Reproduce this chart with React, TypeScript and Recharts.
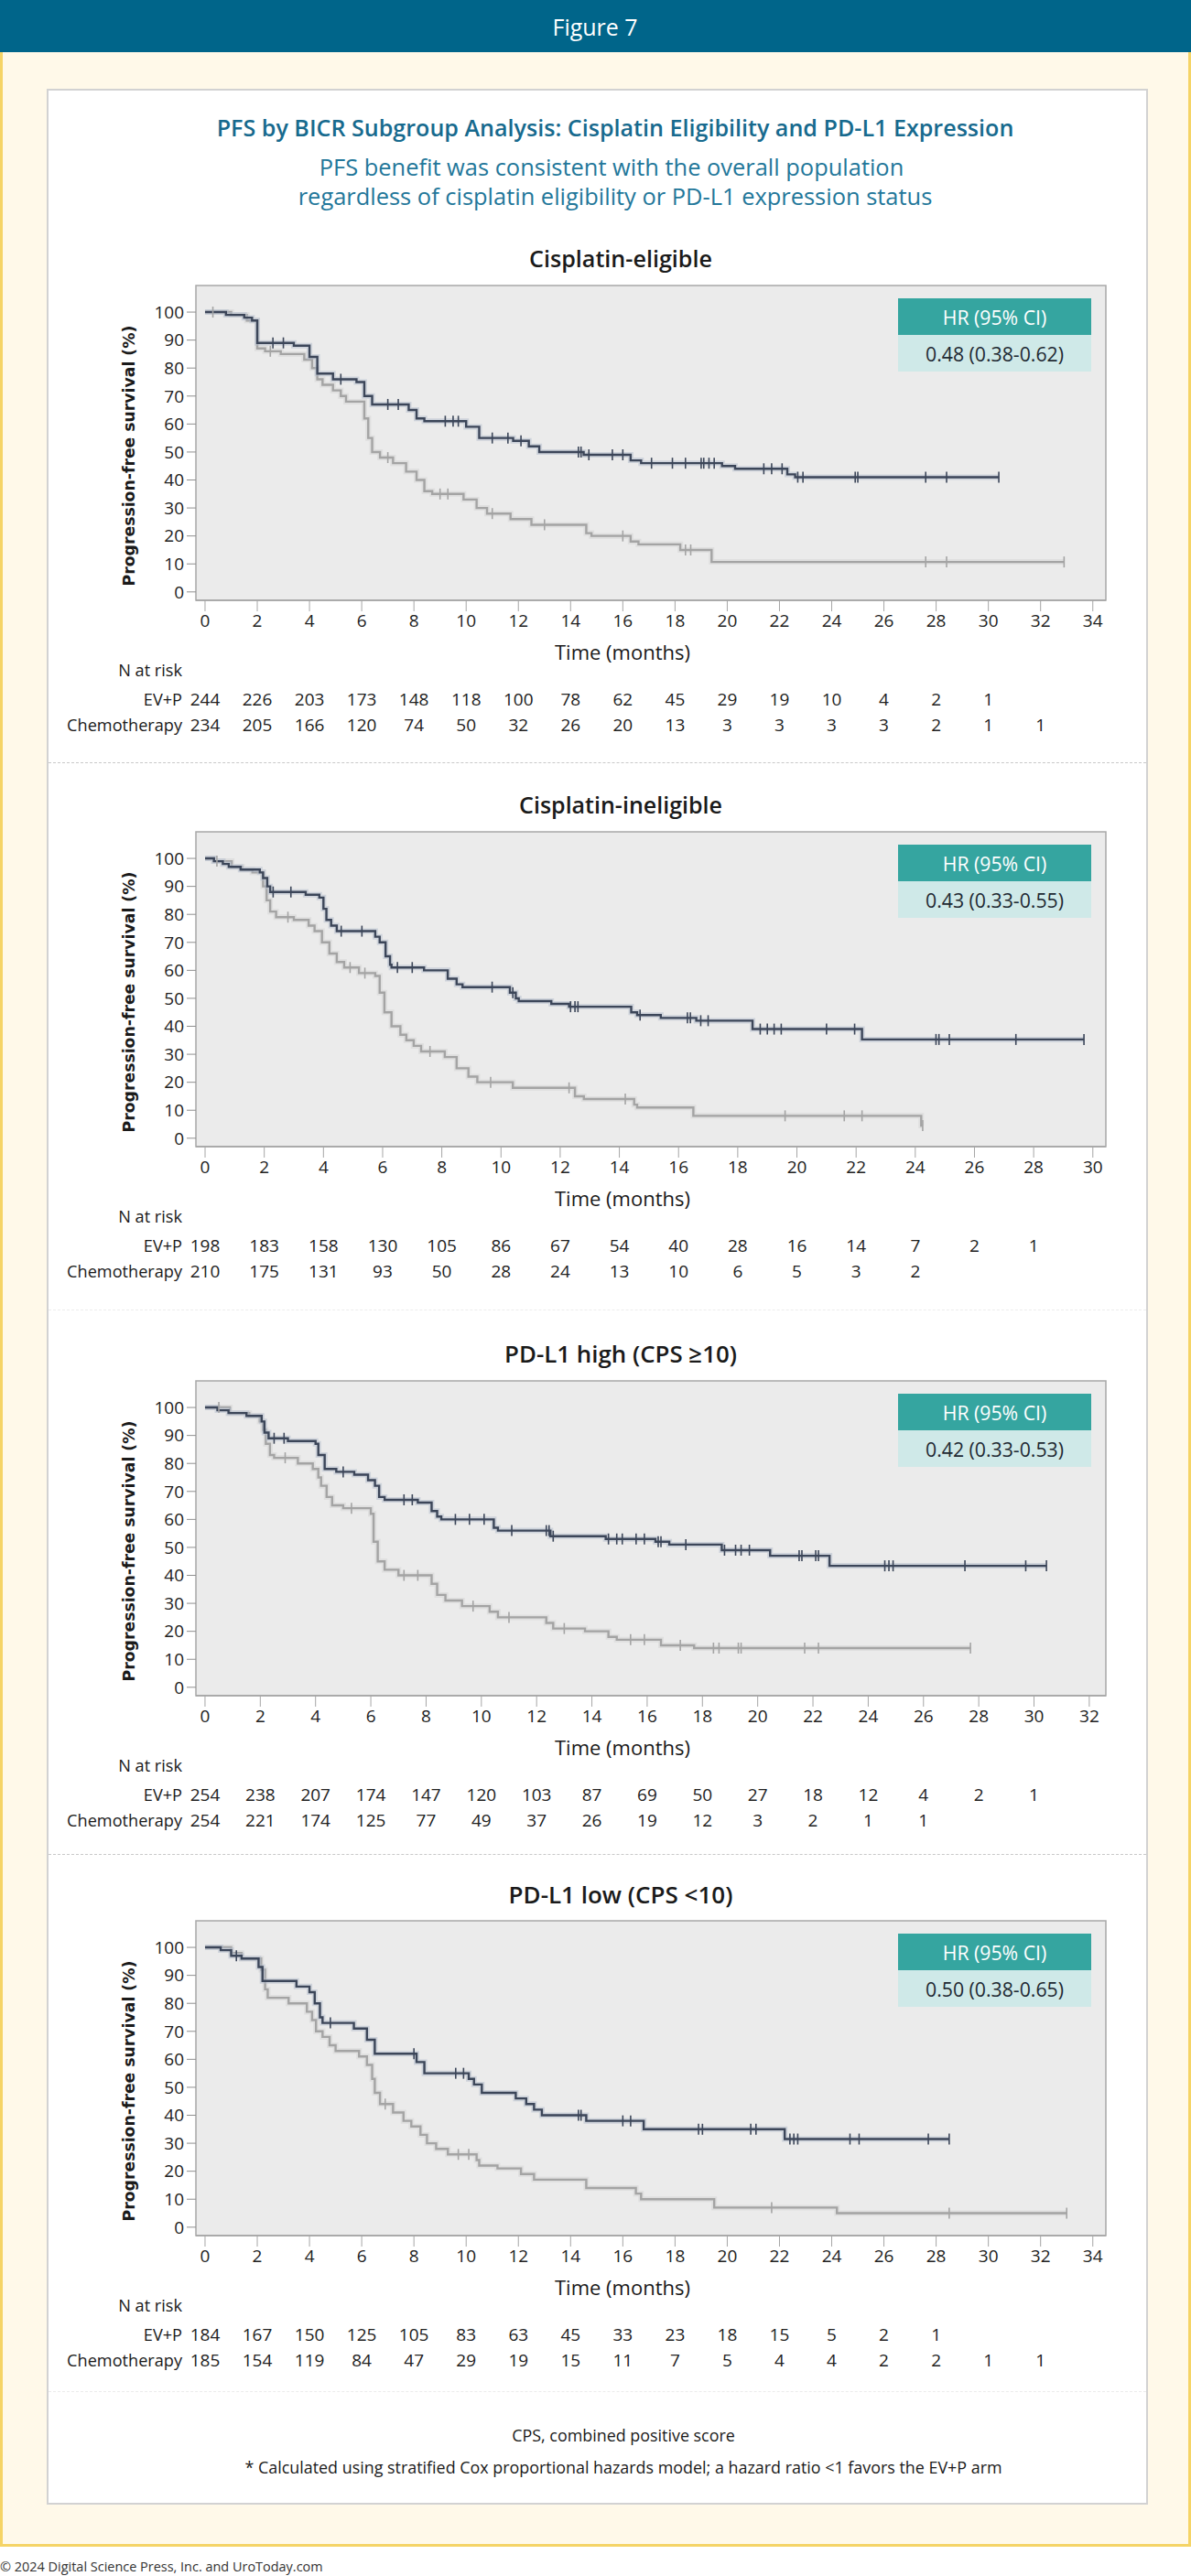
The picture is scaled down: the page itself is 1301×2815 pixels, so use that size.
import React from "react";
import { LineChart, Line, XAxis, YAxis, ReferenceArea } from "recharts";

type Step = [number, number];

const pctTicks = [0, 10, 20, 30, 40, 50, 60, 70, 80, 90, 100];
const months30 = [0, 2, 4, 6, 8, 10, 12, 14, 16, 18, 20, 22, 24, 26, 28, 30];
const months32 = [...months30, 32];
const months34 = [...months32, 34];

// Cisplatin-eligible
const eligibleEvpSteps: Step[] = [
  [0, 100], [0.8, 99], [1.5, 98], [1.8, 97], [2.0, 89], [3.4, 88], [4.0, 84], [4.3, 78],
  [4.9, 76], [5.8, 75], [6.1, 70], [6.4, 67], [7.8, 65], [8.1, 62], [8.4, 61], [10.0, 59],
  [10.5, 55], [11.8, 54], [12.4, 52], [12.8, 50], [14.5, 49], [16.3, 47], [16.7, 46],
  [19.8, 45], [20.3, 44], [22.3, 42], [22.6, 41],
];
const eligibleEvpCensor = [
  2.6, 3.0, 5.2, 7.0, 7.4, 9.2, 9.5, 9.7, 11.0, 11.6, 12.1, 14.3, 14.4, 14.7, 15.6, 16.0,
  17.1, 17.9, 18.4, 19.0, 19.1, 19.3, 19.5, 21.4, 21.7, 22.1, 22.7, 22.9, 24.9, 25.0, 27.6,
  28.4, 30.4,
];
const eligibleChemoSteps: Step[] = [
  [0, 100], [1.0, 99], [1.6, 97], [2.0, 87], [2.3, 86], [2.9, 85], [3.8, 83], [4.1, 80],
  [4.3, 76], [4.5, 74], [4.9, 72], [5.2, 70], [5.4, 68], [6.1, 62], [6.25, 55], [6.4, 50],
  [6.7, 48], [7.2, 46], [7.7, 43], [8.1, 40], [8.4, 36], [8.7, 35], [9.9, 33], [10.4, 30],
  [10.8, 28], [11.7, 26], [12.5, 24], [14.6, 21], [14.8, 20], [16.3, 18], [16.6, 17],
  [18.2, 15], [19.4, 10.7],
];
const eligibleChemoCensor = [0.3, 2.5, 7.0, 9.0, 9.3, 11.0, 13.0, 16.0, 18.4, 18.6, 27.6, 28.4, 32.9];
const eligibleEvpRisk = [244, 226, 203, 173, 148, 118, 100, 78, 62, 45, 29, 19, 10, 4, 2, 1];
const eligibleChemoRisk = [234, 205, 166, 120, 74, 50, 32, 26, 20, 13, 3, 3, 3, 3, 2, 1, 1];

// Cisplatin-ineligible
const ineligibleEvpSteps: Step[] = [
  [0, 100], [0.3, 99], [0.6, 98], [0.8, 97], [1.2, 96], [1.85, 95], [1.96, 93], [2.1, 90],
  [2.2, 88], [3.4, 87], [3.86, 86], [4.0, 82], [4.1, 78], [4.26, 76], [4.45, 74], [5.75, 72],
  [5.9, 70], [6.1, 65], [6.25, 62], [6.3, 61], [7.4, 60], [8.2, 57], [8.5, 55], [8.7, 54],
  [10.3, 52], [10.5, 50], [10.6, 49], [11.7, 48], [12.3, 47], [14.4, 45], [14.6, 44],
  [15.4, 43], [16.6, 42], [18.5, 39], [22.2, 35.3],
];
const ineligibleEvpCensor = [
  2.3, 2.9, 4.6, 5.3, 6.5, 7.0, 9.7, 10.4, 12.35, 12.5, 12.6, 14.7, 16.3, 16.4, 16.75, 17.0,
  18.76, 19.0, 19.23, 19.47, 21.0, 21.95, 24.7, 24.8, 25.15, 27.4, 29.7,
];
const ineligibleChemoSteps: Step[] = [
  [0, 100], [0.3, 99], [0.9, 97], [1.25, 96], [1.6, 95], [1.96, 90], [2.08, 85], [2.2, 81],
  [2.4, 79], [3.0, 78], [3.5, 76], [3.7, 74], [3.95, 70], [4.2, 66], [4.45, 63], [4.7, 61],
  [5.2, 59], [5.75, 58], [5.9, 52], [6.06, 45], [6.3, 40], [6.6, 37], [6.8, 35], [7.05, 33],
  [7.3, 31], [8.1, 29], [8.5, 25], [8.9, 22], [9.2, 20], [10.4, 18], [12.5, 15], [12.8, 14],
  [14.5, 12], [14.6, 11], [16.5, 8], [24.2, 4.5],
];
const ineligibleChemoCensor = [0.4, 2.8, 4.9, 5.4, 7.6, 9.65, 12.3, 14.2, 19.6, 21.6, 22.2, 24.25];
const ineligibleEvpRisk = [198, 183, 158, 130, 105, 86, 67, 54, 40, 28, 16, 14, 7, 2, 1];
const ineligibleChemoRisk = [210, 175, 131, 93, 50, 28, 24, 13, 10, 6, 5, 3, 2];

// PD-L1 high (CPS >= 10)
const highEvpSteps: Step[] = [
  [0, 100], [0.45, 99], [0.85, 98], [1.5, 97], [2.05, 95], [2.15, 91], [2.3, 89], [3.0, 88],
  [4.0, 87], [4.1, 83], [4.33, 78], [4.75, 77], [5.4, 76], [5.9, 74], [6.15, 72], [6.3, 68],
  [6.5, 67], [7.7, 66], [8.2, 63], [8.4, 61], [8.55, 60], [10.45, 57], [10.6, 56], [12.5, 54],
  [14.5, 53], [16.3, 52], [16.8, 51], [18.7, 49], [20.45, 47], [22.6, 43.4],
];
const highEvpCensor = [
  2.5, 2.86, 5.0, 7.2, 7.5, 9.06, 9.57, 10.1, 11.1, 12.35, 12.45, 12.6, 14.6, 14.9, 15.1,
  15.6, 15.9, 16.4, 16.5, 17.4, 18.8, 19.2, 19.4, 19.7, 21.5, 21.6, 22.1, 22.2, 24.6, 24.75,
  24.9, 27.5, 29.7, 30.45,
];
const highChemoSteps: Step[] = [
  [0, 100], [0.9, 98], [1.6, 97], [1.98, 95], [2.1, 92], [2.2, 87], [2.35, 83], [2.5, 82],
  [3.36, 80], [3.9, 78], [4.1, 75], [4.2, 72], [4.4, 68], [4.6, 65], [5.0, 64], [6.0, 62],
  [6.1, 52], [6.25, 45], [6.5, 42], [7.0, 40], [8.2, 37], [8.4, 33], [8.7, 31], [9.3, 29],
  [10.3, 27], [10.6, 25], [12.35, 23], [12.6, 21], [13.75, 20], [14.6, 18], [14.9, 17],
  [16.5, 15], [17.7, 14],
];
const highChemoCensor = [0.5, 2.9, 5.3, 7.2, 7.7, 9.7, 11.0, 13.0, 15.4, 15.9, 17.2, 18.4, 18.6, 19.3, 19.4, 21.7, 22.2, 27.7];
const highEvpRisk = [254, 238, 207, 174, 147, 120, 103, 87, 69, 50, 27, 18, 12, 4, 2, 1];
const highChemoRisk = [254, 221, 174, 125, 77, 49, 37, 26, 19, 12, 3, 2, 1, 1];

// PD-L1 low (CPS < 10)
const lowEvpSteps: Step[] = [
  [0, 100], [0.6, 99], [1.0, 97], [1.4, 96], [2.05, 93], [2.2, 88], [3.5, 86], [4.0, 84],
  [4.2, 80], [4.4, 75], [4.5, 73], [5.7, 71], [6.2, 67], [6.5, 62], [8.1, 59], [8.4, 55],
  [10.1, 53], [10.3, 51], [10.6, 48], [11.9, 46], [12.3, 44], [12.6, 42], [12.9, 40],
  [14.6, 38], [16.8, 35], [22.2, 31.5],
];
const lowEvpCensor = [
  1.2, 4.8, 8.0, 9.6, 9.9, 14.3, 14.4, 16.0, 16.3, 18.9, 19.05, 20.9, 21.1, 22.4, 22.55,
  22.7, 24.7, 25.05, 27.7, 28.5,
];
const lowChemoSteps: Step[] = [
  [0, 100], [1.0, 98], [1.4, 96], [2.15, 92], [2.3, 85], [2.4, 82], [3.2, 80], [3.9, 77],
  [4.1, 74], [4.25, 70], [4.5, 68], [4.77, 65], [5.0, 63], [5.9, 61], [6.2, 58], [6.4, 53],
  [6.5, 48], [6.7, 44], [7.2, 41], [7.6, 38], [7.9, 36], [8.25, 33], [8.5, 30], [8.85, 28],
  [9.3, 26], [10.4, 24], [10.5, 22], [11.2, 21], [12.1, 19], [12.6, 17], [14.6, 14],
  [16.5, 12], [16.7, 10], [19.5, 7], [24.2, 5],
];
const lowChemoCensor = [6.9, 9.7, 10.1, 21.7, 28.5, 33.0];
const lowEvpRisk = [184, 167, 150, 125, 105, 83, 63, 45, 33, 23, 18, 15, 5, 2, 1];
const lowChemoRisk = [185, 154, 119, 84, 47, 29, 19, 15, 11, 7, 5, 4, 4, 2, 2, 1, 1];

interface Panel {
  title: string;
  titleW: number;
  hr: string;
  boxTop: number;
  domain: [number, number];
  ticks: number[];
  evpSteps: Step[];
  evpCensor: number[];
  chemoSteps: Step[];
  chemoCensor: number[];
  evpRisk: number[];
  chemoRisk: number[];
}

const panels: Panel[] = [
  {
    title: "Cisplatin-eligible", titleW: 200, hr: "0.48 (0.38-0.62)", boxTop: 312,
    domain: [-0.35, 34.5], ticks: months34,
    evpSteps: eligibleEvpSteps, evpCensor: eligibleEvpCensor,
    chemoSteps: eligibleChemoSteps, chemoCensor: eligibleChemoCensor,
    evpRisk: eligibleEvpRisk, chemoRisk: eligibleChemoRisk,
  },
  {
    title: "Cisplatin-ineligible", titleW: 222, hr: "0.43 (0.33-0.55)", boxTop: 909,
    domain: [-0.31, 30.44], ticks: months30,
    evpSteps: ineligibleEvpSteps, evpCensor: ineligibleEvpCensor,
    chemoSteps: ineligibleChemoSteps, chemoCensor: ineligibleChemoCensor,
    evpRisk: ineligibleEvpRisk, chemoRisk: ineligibleChemoRisk,
  },
  {
    title: "PD-L1 high (CPS \u226510)", titleW: 254, hr: "0.42 (0.33-0.53)", boxTop: 1509,
    domain: [-0.33, 32.6], ticks: months32,
    evpSteps: highEvpSteps, evpCensor: highEvpCensor,
    chemoSteps: highChemoSteps, chemoCensor: highChemoCensor,
    evpRisk: highEvpRisk, chemoRisk: highChemoRisk,
  },
  {
    title: "PD-L1 low (CPS <10)", titleW: 245, hr: "0.50 (0.38-0.65)", boxTop: 2099,
    domain: [-0.35, 34.5], ticks: months34,
    evpSteps: lowEvpSteps, evpCensor: lowEvpCensor,
    chemoSteps: lowChemoSteps, chemoCensor: lowChemoCensor,
    evpRisk: lowEvpRisk, chemoRisk: lowChemoRisk,
  },
];

const FONT = '"Open Sans", "Noto Sans", sans-serif';
const LABEL_FONT = '"DejaVu Sans", sans-serif';
const PAGE_W = 1301;
const PLOT_L = 214;
const PLOT_R = 1208;
const PLOT_H = 344;
const PAD_TOP = 12;
const AXIS_H = 160;
const YAXIS_W = 90;
const BOX_B = PAD_TOP + PLOT_H; // plot bottom inside each chart svg
const Y_DOMAIN: [number, number] = [-3, 109.5];
const TICK_SIZE = 19;

const EVP_COLOR = "#3c4659";
const EVP_HALO = "#b2bccb";
const CHEMO_COLOR = "#a4a4a4";
const CHEMO_HALO = "#d3d3d3";

// font size that makes a string span a given width
const measureCtx = typeof document !== "undefined" ? document.createElement("canvas").getContext("2d") : null;
function fitSize(text: string, width: number, weight = 400, family = FONT, fallback = 18) {
  if (!measureCtx) return fallback;
  measureCtx.font = `${weight} 100px ${family}`;
  const w = measureCtx.measureText(text).width;
  return w > 0 ? (100 * width) / w : fallback;
}

const riskLabelSize = fitSize("Chemotherapy", 126);
const hrSize = fitSize("0.48 (0.38-0.62)", 151);
const timeSize = fitSize("Time (months)", 148);
const yLabelSize = fitSize("Progression-free survival (%)", 285, 700, LABEL_FONT, 15);

// step points plus a point at every censoring time, carrying the current survival value
function buildCurve(steps: Step[], censor: number[]) {
  const pts = steps.map(([t, s]) => ({ t, s, c: false }));
  censor.forEach((t) => {
    let s = steps[0][1];
    steps.forEach(([t0, s0]) => {
      if (t0 <= t) s = s0;
    });
    pts.push({ t, s, c: true });
  });
  return pts.sort((a, b) => a.t - b.t || (a.c ? 1 : 0) - (b.c ? 1 : 0));
}

const censorDot = (color: string) => (props: any) => {
  const { cx, cy, payload, index } = props;
  if (!payload || !payload.c) return <g key={`d-${index}`} />;
  return (
    <line key={`d-${index}`} x1={cx} x2={cx} y1={cy - 6} y2={cy + 6} stroke={color} strokeWidth={1.6} />
  );
};

const Centered = ({ x, y, style, children }: any) => (
  <div
    style={{
      position: "absolute", left: x, top: y, transform: "translate(-50%, -50%)",
      whiteSpace: "nowrap", lineHeight: 1, ...style,
    }}
  >
    {children}
  </div>
);

const RightAligned = ({ x, y, style, children }: any) => (
  <div
    style={{
      position: "absolute", left: x, top: y, transform: "translate(-100%, -50%)",
      whiteSpace: "nowrap", lineHeight: 1, ...style,
    }}
  >
    {children}
  </div>
);

function KMPanel({ p }: { p: Panel }) {
  const evp = buildCurve(p.evpSteps, p.evpCensor);
  const chemo = buildCurve(p.chemoSteps, p.chemoCensor);
  const boxBottom = p.boxTop + PLOT_H;

  // x tick label with the two number-at-risk rows under it
  const renderTick = (props: any) => {
    const { x, payload, index } = props;
    const i = p.ticks.indexOf(payload.value);
    const ev = p.evpRisk[i];
    const ch = p.chemoRisk[i];
    const txt = {
      textAnchor: "middle" as const, dominantBaseline: "central" as const,
      fontSize: TICK_SIZE, fill: "#222", fontFamily: FONT,
    };
    return (
      <g key={`tick-${index}`}>
        <text x={x} y={BOX_B + 22} {...txt}>{payload.value}</text>
        {ev !== undefined && <text x={x} y={BOX_B + 108} {...txt}>{ev}</text>}
        {ch !== undefined && <text x={x} y={BOX_B + 136} {...txt}>{ch}</text>}
      </g>
    );
  };

  const labelStyle = { fontSize: riskLabelSize, color: "#1a1a1a" };

  return (
    <>
      <Centered
        x={678}
        y={p.boxTop - 29}
        style={{ fontSize: fitSize(p.title, p.titleW, 600), fontWeight: 600, color: "#1a1a1a" }}
      >
        {p.title}
      </Centered>

      <div style={{ position: "absolute", left: 0, top: p.boxTop - PAD_TOP }}>
        <LineChart
          width={PAGE_W}
          height={PAD_TOP + PLOT_H + AXIS_H}
          margin={{ top: PAD_TOP, right: PAGE_W - PLOT_R, bottom: 0, left: PLOT_L - YAXIS_W }}
        >
          <XAxis
            type="number"
            dataKey="t"
            domain={p.domain}
            ticks={p.ticks}
            interval={0}
            allowDataOverflow
            height={AXIS_H}
            tickSize={12}
            axisLine={{ stroke: "#a6a6a6", strokeWidth: 1.5 }}
            tickLine={{ stroke: "#a6a6a6" }}
            tick={renderTick}
          />
          <YAxis
            type="number"
            domain={Y_DOMAIN}
            ticks={pctTicks}
            interval={0}
            allowDataOverflow
            width={YAXIS_W}
            tickSize={10}
            tickMargin={3}
            axisLine={false}
            tickLine={{ stroke: "#8f8f8f" }}
            tick={{ fill: "#222", fontSize: TICK_SIZE, fontFamily: FONT }}
          />
          <ReferenceArea
            x1={p.domain[0]}
            x2={p.domain[1]}
            y1={Y_DOMAIN[0]}
            y2={Y_DOMAIN[1]}
            fill="#ebebeb"
            fillOpacity={1}
            stroke="#a8a8a8"
            strokeWidth={1.5}
          />
          <Line data={chemo} dataKey="s" type="stepAfter" stroke={CHEMO_HALO} strokeWidth={6} strokeOpacity={0.5}
            dot={false} activeDot={false} isAnimationActive={false} />
          <Line data={chemo} dataKey="s" type="stepAfter" stroke={CHEMO_COLOR} strokeWidth={2.4}
            dot={censorDot(CHEMO_COLOR)} activeDot={false} isAnimationActive={false} />
          <Line data={evp} dataKey="s" type="stepAfter" stroke={EVP_HALO} strokeWidth={6} strokeOpacity={0.5}
            dot={false} activeDot={false} isAnimationActive={false} />
          <Line data={evp} dataKey="s" type="stepAfter" stroke={EVP_COLOR} strokeWidth={2.4}
            dot={censorDot(EVP_COLOR)} activeDot={false} isAnimationActive={false} />
        </LineChart>
      </div>

      <Centered
        x={142}
        y={p.boxTop + 186}
        style={{
          transform: "translate(-50%, -50%) rotate(-90deg)",
          fontFamily: LABEL_FONT, fontWeight: 700, fontSize: yLabelSize, color: "#1a1a1a",
        }}
      >
        Progression-free survival (%)
      </Centered>

      {/* hazard ratio box */}
      <div style={{ position: "absolute", left: 981, top: p.boxTop + 14, width: 211 }}>
        <div style={{ height: 40, background: "#35a5a0", color: "#fff", fontSize: hrSize, display: "flex", alignItems: "center", justifyContent: "center" }}>
          HR (95% CI)
        </div>
        <div style={{ height: 40, background: "#cfe9e8", color: "#1f2a33", fontSize: hrSize, display: "flex", alignItems: "center", justifyContent: "center" }}>
          {p.hr}
        </div>
      </div>

      <Centered x={680} y={boxBottom + 56} style={{ fontSize: timeSize, color: "#1a1a1a" }}>
        Time (months)
      </Centered>
      <RightAligned x={199} y={boxBottom + 76} style={labelStyle}>N at risk</RightAligned>
      <RightAligned x={199} y={boxBottom + 108} style={labelStyle}>EV+P</RightAligned>
      <RightAligned x={199} y={boxBottom + 136} style={labelStyle}>Chemotherapy</RightAligned>
    </>
  );
}

const separators = [
  { y: 833, color: "#c9c9c9" },
  { y: 1431, color: "#ececec" },
  { y: 2026, color: "#c9c9c9" },
  { y: 2613, color: "#ececec" },
];

const TITLE = "PFS by BICR Subgroup Analysis: Cisplatin Eligibility and PD-L1 Expression";
const SUB_1 = "PFS benefit was consistent with the overall population";
const SUB_2 = "regardless of cisplatin eligibility or PD-L1 expression status";
const NOTE_CPS = "CPS, combined positive score";
const NOTE_HR = "* Calculated using stratified Cox proportional hazards model; a hazard ratio <1 favors the EV+P arm";
const COPYRIGHT = "\u00a9 2024 Digital Science Press, Inc. and UroToday.com";

export default function App() {
  const subSize = fitSize(SUB_2, 693);
  const noteSize = fitSize(NOTE_HR, 828);
  return (
    <div
      style={{
        position: "absolute", left: 0, top: 0, width: PAGE_W, height: 2815,
        background: "#fff", fontFamily: FONT, overflow: "hidden",
      }}
    >
      <div style={{ position: "absolute", left: 0, top: 0, width: PAGE_W, height: 57, background: "#00658a" }} />
      <Centered x={650} y={29} style={{ fontSize: fitSize("Figure 7", 93, 500), fontWeight: 500, color: "#fff" }}>
        Figure 7
      </Centered>

      <div
        style={{
          position: "absolute", left: 0, top: 57, width: PAGE_W, height: 2726, boxSizing: "border-box",
          background: "#fff9e9", borderLeft: "3px solid #f5d466", borderRight: "3px solid #f5d466",
          borderBottom: "3px solid #f5d466",
        }}
      />
      <div
        style={{
          position: "absolute", left: 51, top: 97, width: 1203, height: 2640, boxSizing: "border-box",
          background: "#fff", border: "2px solid #d2d2d2",
        }}
      />

      <Centered x={672} y={140} style={{ fontSize: fitSize(TITLE, 871, 600), fontWeight: 600, color: "#176a8e" }}>
        {TITLE}
      </Centered>
      <Centered x={668} y={183} style={{ fontSize: subSize, color: "#23779a" }}>
        {SUB_1}
      </Centered>
      <Centered x={672} y={215} style={{ fontSize: subSize, color: "#23779a" }}>
        {SUB_2}
      </Centered>

      {separators.map((s) => (
        <div
          key={s.y}
          style={{ position: "absolute", left: 53, top: s.y, width: 1199, borderTop: `1.5px dashed ${s.color}` }}
        />
      ))}

      {panels.map((p) => (
        <KMPanel key={p.title} p={p} />
      ))}

      <Centered x={681} y={2662} style={{ fontSize: noteSize, color: "#1a1a1a" }}>
        {NOTE_CPS}
      </Centered>
      <Centered x={681} y={2697} style={{ fontSize: noteSize, color: "#1a1a1a" }}>
        {NOTE_HR}
      </Centered>

      <div
        style={{
          position: "absolute", left: 0, top: 2805, transform: "translateY(-50%)",
          fontSize: fitSize(COPYRIGHT, 353), color: "#333", whiteSpace: "nowrap", lineHeight: 1,
        }}
      >
        {COPYRIGHT}
      </div>
    </div>
  );
}
